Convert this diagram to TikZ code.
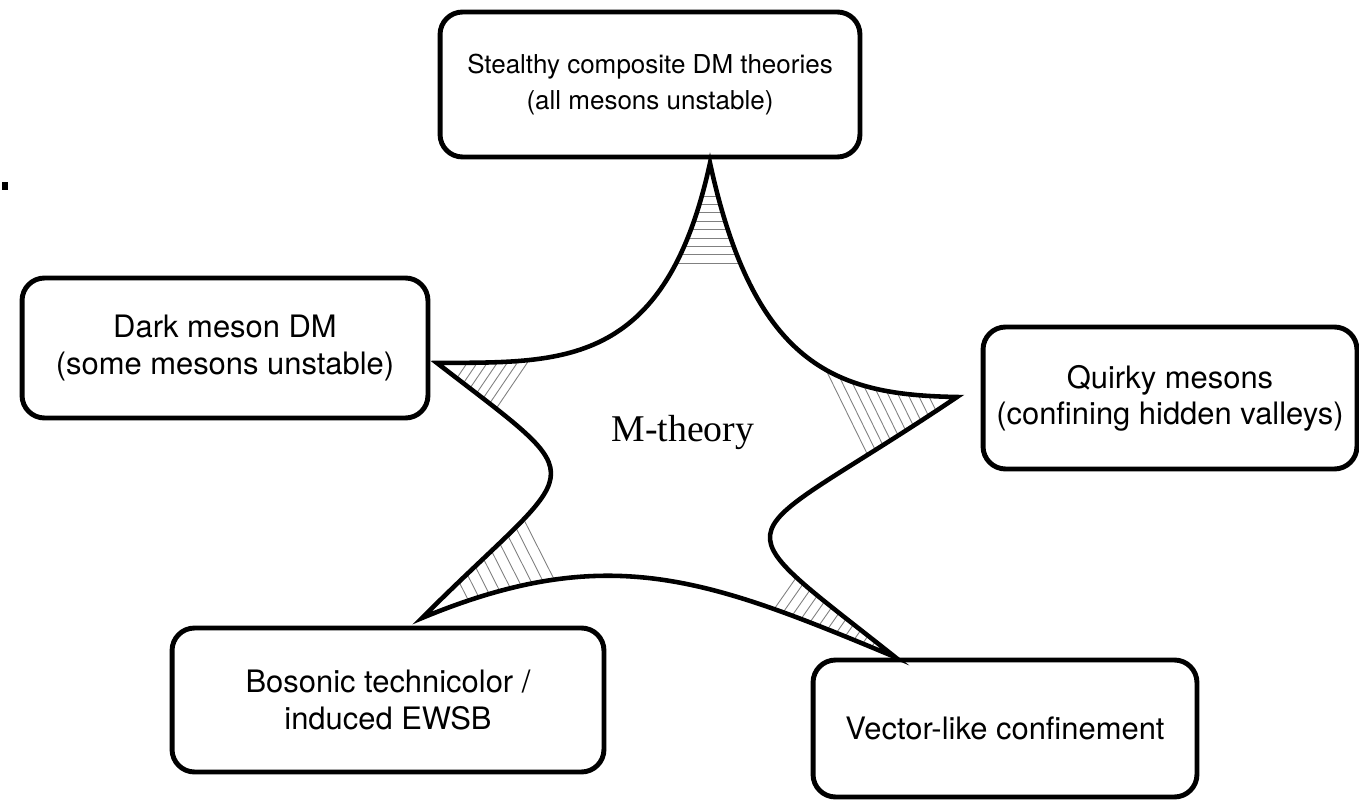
\documentclass[tikz,border=0pt]{standalone}
\usepackage{fontspec}
\setmainfont{TeX Gyre Heros}
\newfontfamily\timesfont{Liberation Serif}

% outline of the star, in pixel units
\newcommand{\mstar}{(710,163) .. controls (665,370) and (560,362) .. (437,363)
  .. controls (600,489) and (582,458) .. (422,618)
  .. controls (610,540) and (710,580) .. (895,657)
  .. controls (710,510) and (730,550) .. (957,397)
  .. controls (840,395) and (755,370) .. (710,163) -- cycle}

\begin{document}
\begin{tikzpicture}[x=0.02cm, y=-0.02cm,
    box/.style={draw, line width=2.8pt, rounded corners=0.45cm, align=center,
      font=\fontsize{17.6}{20.5}\selectfont},
    hatch/.style={gray, line width=0.5pt}]
  \useasboundingbox (0,0) rectangle (1359,800);
  % Nodes
  \node[box, minimum width=8.4cm, minimum height=2.9cm, font=\fontsize{14.8}{20}\selectfont] (stealthy) at (650,84.5) {Stealthy composite DM theories\\(all mesons unstable)};
  \node[box, minimum width=8.12cm, minimum height=2.8cm] (darkmeson) at (225,348) {Dark meson DM\\(some mesons unstable)};
  \node[box, minimum width=7.48cm, minimum height=2.84cm] (quirky) at (1170,398) {Quirky mesons\\(confining hidden valleys)};
  \node[box, minimum width=8.64cm, minimum height=2.88cm] (bosonic) at (388,700) {Bosonic technicolor /\\induced EWSB};
  \node[box, minimum width=7.68cm, minimum height=2.74cm] (vectorlike) at (1005,728.5) {Vector-like confinement};
  % Hatching in the tips
  \begin{scope}
    \clip \mstar;
    \foreach \i in {0,...,8} \draw[hatch] (640,{196+8.4*\i}) -- (780,{196+8.4*\i});
    \foreach \x in {468,478,...,528} \draw[hatch] (\x+12,344) -- (\x-45,428);
    \foreach \x in {826,836,...,916} \draw[hatch] (\x,370) -- (\x+53,478);
    \foreach \x in {462,470,...,526} \draw[hatch] (\x-10,1030-\x) -- (\x+35,1119-\x);
    \foreach \x in {766,775,...,869} \draw[hatch] (\x,{615+0.359*(\x-750)}) -- ++(63,-90);
  \end{scope}
  % Star
  \draw[line width=2.6pt] \mstar;
  \node[font=\timesfont\fontsize{21.5}{24}\selectfont] (mtheory) at (683,432) {M-theory};
  \fill (2,182) rectangle (8,190);
\end{tikzpicture}
\end{document}
